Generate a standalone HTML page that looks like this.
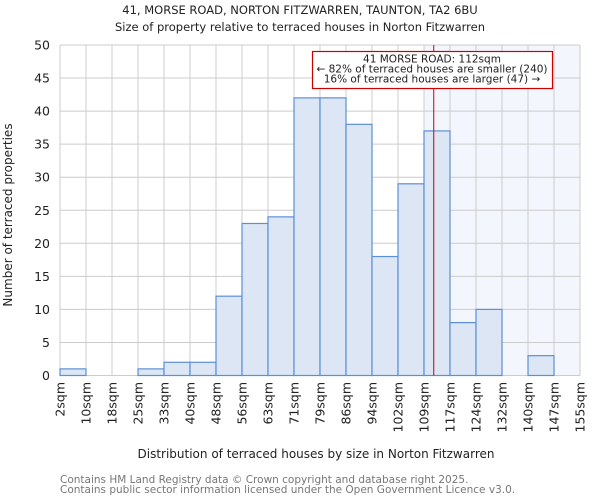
<!DOCTYPE html>
<html><head><meta charset="utf-8"><style>
body{margin:0;background:#fff;font-family:"DejaVu Sans","Liberation Sans",sans-serif}
</style></head><body>
<svg id="c" width="600" height="500" xmlns="http://www.w3.org/2000/svg" font-family="DejaVu Sans, Liberation Sans, sans-serif">
<text x="300" y="14" font-size="11.5" text-anchor="middle" fill="#222">41, MORSE ROAD, NORTON FITZWARREN, TAUNTON, TA2 6BU</text>
<text x="300" y="31" font-size="11.5" text-anchor="middle" fill="#222">Size of property relative to terraced houses in Norton Fitzwarren</text>
<g id="plot"></g>
<text x="316" y="458" font-size="12" text-anchor="middle" fill="#222">Distribution of terraced houses by size in Norton Fitzwarren</text>
<text transform="translate(12,215) rotate(-90)" font-size="12" text-anchor="middle" fill="#222">Number of terraced properties</text>
<text x="60" y="483" font-size="10.5" fill="#777">Contains HM Land Registry data © Crown copyright and database right 2025.</text>
<text x="60" y="493" font-size="10.5" fill="#777">Contains public sector information licensed under the Open Government Licence v3.0.</text>
</svg>
<script>
const categories=["2sqm","10sqm","18sqm","25sqm","33sqm","40sqm","48sqm","56sqm","63sqm","71sqm","79sqm","86sqm","94sqm","102sqm","109sqm","117sqm","124sqm","132sqm","140sqm","147sqm","155sqm"];
const counts=[1,0,0,1,2,2,12,23,24,42,42,38,18,29,37,8,10,0,3,0];
const yTicks=[0,5,10,15,20,25,30,35,40,45,50];
const binEdges=[2,10,18,25,33,40,48,56,63,71,79,86,94,102,109,117,124,132,140,147,155];
const propertySize=112;
const NS="http://www.w3.org/2000/svg";
const L=60,R=580,T=45,B=375.5,n=counts.length;
const bw=(R-L)/n;
const xi=i=>L+i*bw;
const y=v=>B-(v/50)*(B-T);
const xv=v=>{for(let i=0;i<binEdges.length-1;i++){if(v<=binEdges[i+1])return xi(i)+(v-binEdges[i])/(binEdges[i+1]-binEdges[i])*bw;}return R;};
const g=document.getElementById('plot');
function mk(t,a){const e=document.createElementNS(NS,t);for(const k in a)e.setAttribute(k,a[k]);g.appendChild(e);return e;}
const hi=binEdges.findIndex((e,i)=>propertySize>=e&&propertySize<binEdges[i+1]);
const sh=mk('rect',{x:xi(hi),y:T,width:R-xi(hi),height:B-T,fill:'#f4f6fd'});


for(let i=0;i<=n;i++){const l=mk('line',{x1:xi(i),x2:xi(i),y1:T,y2:B,stroke:'#ccc','stroke-width':1});

}
yTicks.forEach(v=>{const l=mk('line',{x1:L,x2:R,y1:y(v),y2:y(v),stroke:'#ccc','stroke-width':1});


const t=mk('text',{x:L-10,y:y(v)+4.5,'font-size':12.5,'text-anchor':'end',fill:'#222'});t.textContent=v;

});
counts.forEach((c,i)=>{if(c<=0)return;const r=mk('rect',{x:xi(i),y:y(c),width:bw,height:B-y(c),fill:'#dce6f4',stroke:'#5b8fd6','stroke-width':1.2});

});
categories.forEach((c,i)=>{const t=mk('text',{transform:`translate(${xi(i)+4.5},382) rotate(-90)`,'font-size':12.5,'text-anchor':'end',fill:'#222'});t.textContent=c;

});
const mx=xv(propertySize);
const ml=mk('line',{x1:mx,x2:mx,y1:T,y2:B,stroke:'#c00','stroke-width':1});


const bx=mk('rect',{x:312.5,y:51.5,width:240,height:37,fill:'#fff',stroke:'#c00','stroke-width':1.2});


["41 MORSE ROAD: 112sqm","← 82% of terraced houses are smaller (240)","16% of terraced houses are larger (47) →"].forEach((s,k)=>{const t=mk('text',{x:432,y:62.5+k*10,'font-size':10.5,'text-anchor':'middle',fill:'#222'});t.textContent=s;

});
</script>
</body></html>
